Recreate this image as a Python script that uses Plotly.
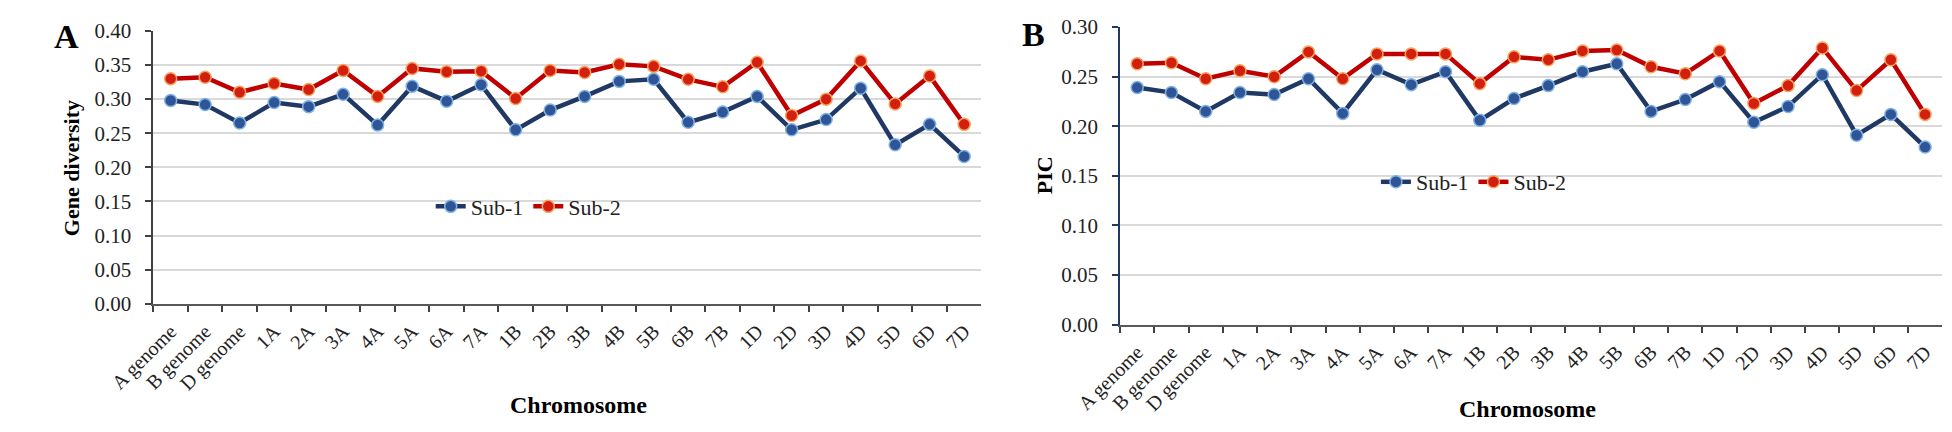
import plotly.graph_objects as go

categories = ["A genome", "B genome", "D genome", "1A", "2A", "3A", "4A", "5A", "6A", "7A",
              "1B", "2B", "3B", "4B", "5B", "6B", "7B", "1D", "2D", "3D", "4D", "5D", "6D", "7D"]

gd_sub1 = [0.298, 0.292, 0.265, 0.295, 0.289, 0.307, 0.262, 0.319, 0.297, 0.321,
           0.255, 0.284, 0.304, 0.326, 0.329, 0.266, 0.281, 0.304, 0.255, 0.270,
           0.316, 0.233, 0.263, 0.216]
gd_sub2 = [0.330, 0.332, 0.310, 0.323, 0.314, 0.342, 0.304, 0.345, 0.340, 0.341,
           0.301, 0.342, 0.339, 0.351, 0.348, 0.329, 0.318, 0.354, 0.276, 0.300,
           0.356, 0.293, 0.334, 0.263]

pic_sub1 = [0.239, 0.234, 0.215, 0.234, 0.232, 0.248, 0.213, 0.257, 0.242, 0.255,
            0.206, 0.228, 0.241, 0.255, 0.263, 0.215, 0.227, 0.245, 0.204, 0.220,
            0.252, 0.191, 0.212, 0.179]
pic_sub2 = [0.263, 0.264, 0.248, 0.256, 0.250, 0.275, 0.248, 0.273, 0.273, 0.273,
            0.243, 0.270, 0.267, 0.276, 0.277, 0.260, 0.253, 0.276, 0.223, 0.241,
            0.279, 0.236, 0.267, 0.212]

series_names = ["Sub-1", "Sub-2"]

FONT = "Liberation Serif"
W, H = 1952, 432
BLUE_LINE = "#1F3864"
BLUE_FILL = "#2F5597"
BLUE_EDGE = "#7FB2E5"
RED_LINE = "#C00000"
RED_FILL = "#D21F0F"
RED_EDGE = "#F4A460"

fig = go.Figure()

def add_series(y, name, xa, ya, legend, line_c, fill_c, edge_c):
    fig.add_trace(go.Scatter(
        x=categories, y=y, name=name, mode="lines+markers",
        xaxis=xa, yaxis=ya, legend=legend,
        line=dict(color=line_c, width=4.5),
        marker=dict(size=12, color=fill_c, line=dict(color=edge_c, width=1.5)),
    ))

add_series(gd_sub1, series_names[0], "x", "y", "legend", BLUE_LINE, BLUE_FILL, BLUE_EDGE)
add_series(gd_sub2, series_names[1], "x", "y", "legend", RED_LINE, RED_FILL, RED_EDGE)
add_series(pic_sub1, series_names[0], "x2", "y2", "legend2", BLUE_LINE, BLUE_FILL, BLUE_EDGE)
add_series(pic_sub2, series_names[1], "x2", "y2", "legend2", RED_LINE, RED_FILL, RED_EDGE)

def px_x(p):
    return p / W

def px_y(p):
    return 1 - p / H

n_cat = len(categories)
xcommon = dict(type="category", range=[-0.5, n_cat - 0.5], tickangle=-45, ticks="outside",
               tickson="boundaries", ticklen=6, tickwidth=2, tickcolor="#404040",
               ticklabelstandoff=6,
               showline=True, linecolor="#595959", linewidth=2, showgrid=False,
               tickfont=dict(family=FONT, size=20, color="#222222"))
ycommon = dict(ticks="outside", ticklen=6, tickwidth=2, dtick=0.05, tickformat=".2f",
               showgrid=True, gridcolor="#D9D9D9", gridwidth=1.5, zeroline=False,
               showline=True, linewidth=2, ticklabelstandoff=10,
               tickfont=dict(family=FONT, size=21, color="#222222"))

legend_font = dict(family=FONT, size=22, color="#222222")

fig.update_layout(
    width=W, height=H,
    margin=dict(l=0, r=0, t=0, b=0),
    paper_bgcolor="white", plot_bgcolor="white",
    font=dict(family=FONT, color="#111111"),
    xaxis=dict(domain=[px_x(110), px_x(958)], anchor="y", **xcommon),
    yaxis=dict(domain=[px_y(309), px_y(20)], anchor="x", range=[0, 0.40],
               linecolor="#404040", tickcolor="#404040", **ycommon),
    xaxis2=dict(domain=[px_x(1100), px_x(1942)], anchor="y2", **xcommon),
    yaxis2=dict(domain=[px_y(331), px_y(16)], anchor="x2", range=[0, 0.30],
                linecolor="#1F3864", tickcolor="#1F3864", **ycommon),
    legend=dict(orientation="h", x=px_x(394), y=px_y(206), xanchor="left", yanchor="middle",
                font=legend_font, bgcolor="rgba(0,0,0,0)", tracegroupgap=0),
    legend2=dict(orientation="h", x=px_x(1362), y=px_y(180), xanchor="left", yanchor="middle",
                 font=legend_font, bgcolor="rgba(0,0,0,0)", tracegroupgap=0),
    showlegend=True,
)

annotations = [
    dict(text="<b>A</b>", x=px_x(6), y=px_y(26), xanchor="left", yanchor="middle",
         font=dict(family=FONT, size=34, color="black")),
    dict(text="<b>B</b>", x=px_x(998), y=px_y(24), xanchor="left", yanchor="middle",
         font=dict(family=FONT, size=34, color="black")),
    dict(text="<b>Gene diversity</b>", x=px_x(26), y=px_y(165), textangle=-90,
         xanchor="center", yanchor="middle", font=dict(family=FONT, size=22, color="black")),
    dict(text="<b>PIC</b>", x=px_x(1022), y=px_y(173), textangle=-90,
         xanchor="center", yanchor="middle", font=dict(family=FONT, size=22, color="black")),
    dict(text="<b>Chromosome</b>", x=px_x(545), y=px_y(416), xanchor="center", yanchor="middle",
         font=dict(family=FONT, size=24, color="black")),
    dict(text="<b>Chromosome</b>", x=px_x(1517), y=px_y(420), xanchor="center", yanchor="middle",
         font=dict(family=FONT, size=24, color="black")),
]
for a in annotations:
    a.update(xref="paper", yref="paper", showarrow=False)
fig.update_layout(annotations=annotations)

fig.write_html("out.html", config={"displayModeBar": False},
               post_script="document.body.style.margin='0';")
